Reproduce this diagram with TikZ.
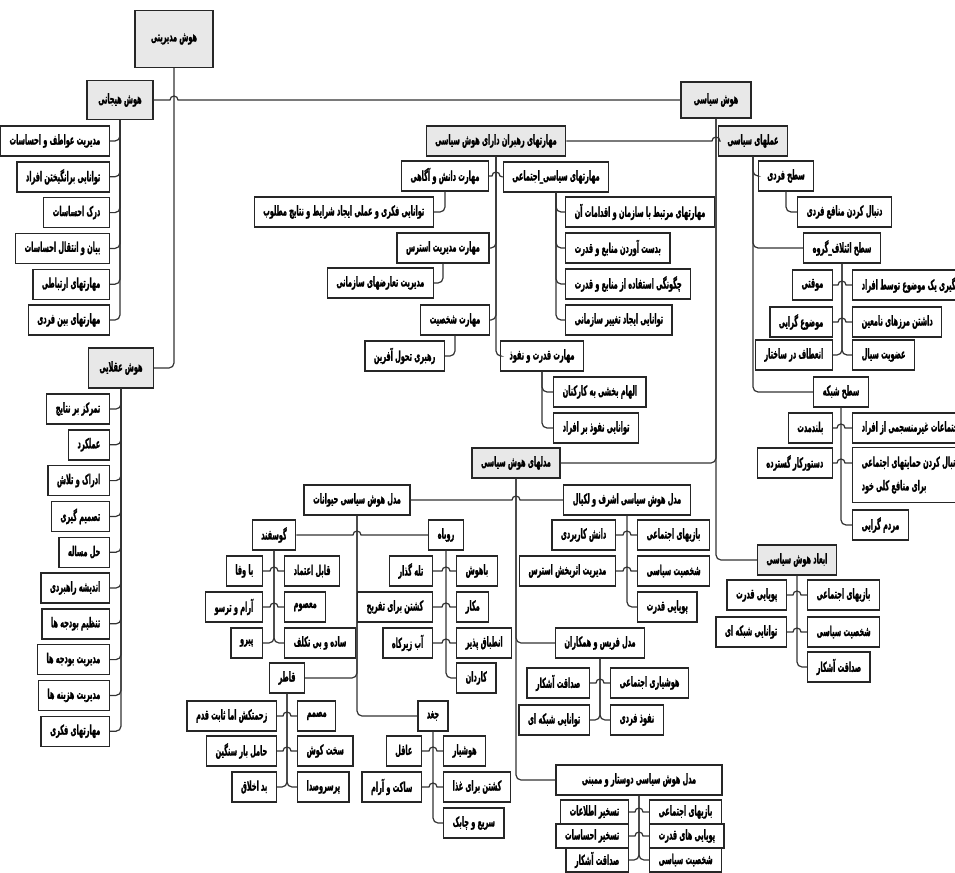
\documentclass[tikz,border=0pt]{standalone}
\usepackage{fontspec}
\newfontfamily\farsifont[Script=Arabic, FakeStretch=0.48, BoldFeatures={FakeBold=1.2}]{DejaVu Sans}
\TeXXeTstate=1
\tikzset{
	box/.style={draw=black!85, line width=0.7pt, fill=white, font=\farsifont\bfseries\fontsize{6.8}{7.8}\selectfont, inner xsep=4.5pt, inner ysep=1pt, minimum height=15pt, execute at begin node=\beginR, execute at end node=\endR},
	gbox/.style={box, fill=black!9},
	link/.style={draw=black!80, line width=0.6pt, rounded corners=2.5pt},
	hop/.style={draw=black!80, line width=0.6pt}
}
\begin{document}
\begin{tikzpicture}[x=0.5pt, y=-0.5pt]
		\useasboundingbox (0,0) rectangle (955,873);
		% top level
		\node[gbox, minimum width=39pt, minimum height=28.5pt] (mod) at (174,39) {هوش مدیریتی};
		\node[gbox, minimum width=33pt, minimum height=19.5pt] (hej) at (120,100) {هوش هیجانی};
		\node[gbox, minimum width=32.5pt, minimum height=20pt] (aql) at (121,368) {هوش عقلایی};
		\node[gbox, minimum width=35pt, minimum height=18pt] (sia) at (716,100) {هوش سیاسی};
		\draw[link] (mod.south) |- (aql.east);
		\draw[hop] (hej.east) -- ([xshift=-2pt]mod.south |- hej.east) arc (180:0:2pt) -- (sia.west);
		
		% emotional intelligence
		\foreach \t [count=\i] in {مدیریت عواطف و احساسات, توانایی برانگیختن افراد, درک احساسات, بیان و انتقال احساسات, مهارتهای ارتباطی, مهارتهای بین فردی}
		{
			\node[box, anchor=east] (h\i) at (110,141+35.8*\i-35.8) {\t};
			\draw[link] (hej.south) |- (h\i.east);
		}
		% rational intelligence
		\foreach \t [count=\i] in {تمرکز بر نتایج, عملکرد, ادراک و تلاش, تصمیم گیری, حل مساله, اندیشه راهبردی, تنظیم بودجه ها, مدیریت بودجه ها, مدیریت هزینه ها, مهارتهای فکری}
		{
			\node[box, anchor=east] (a\i) at (110,409+35.8*\i-35.8) {\t};
			\draw[link] (aql.south) |- (a\i.east);
		}
		
		% political intelligence
		\node[gbox] (mrh) at (496,141) {مهارتهای رهبران دارای هوش سیاسی};
		\node[gbox] (aml) at (753,141) {عملهای سیاسی};
		\node[gbox, minimum width=39pt] (mdl) at (516,463) {مدلهای هوش سیاسی};
		\node[gbox, minimum width=34.5pt] (abd) at (797,560) {ابعاد هوش سیاسی};
		\draw[link] (sia.south) |- (abd.west);
		\draw[hop] (mrh.east) -- ([xshift=-2pt]sia.south |- mrh.east) arc (180:0:2pt) -- (aml.west);
		\draw[link] (sia.south) |- (mdl.east);
		
		% leaders' skills
		\node[box] (md) at (445,176) {مهارت دانش و آگاهی};
		\node[box] (ms) at (556,177) {مهارتهای سیاسی\_اجتماعی};
		\node[box] (me) at (443,248) {مهارت مدیریت استرس};
		\node[box] (mk) at (455,320) {مهارت شخصیت};
		\node[box] (mn) at (542,356) {مهارت قدرت و نفوذ};
		\draw[hop] (md.east) -- ([xshift=-2pt]mrh.south |- md.east) arc (180:0:2pt) -- (ms.west);
		\draw[link] (mrh.south) |- (me.east);
		\draw[link] (mrh.south) |- (mk.east);
		\draw[link] (mrh.south) |- (mn.west);
		\node[box, anchor=east] (tf) at (434,212) {توانایی فکری و عملی ایجاد شرایط و نتایج مطلوب};
		\node[box, anchor=east] (tt) at (434,283) {مدیریت تعارضهای سازمانی};
		\node[box, anchor=east] (rt) at (445,356) {رهبری تحول آفرین};
		\draw[link] (md.south) |- (tf.east);
		\draw[link] (me.south) |- (tt.east);
		\draw[link] (mk.south) |- (rt.east);
		\foreach \t [count=\i] in {مهارتهای مرتبط با سازمان و اقدامات آن, بدست آوردن منابع و قدرت, چگونگی استفاده از منابع و قدرت, توانایی ایجاد تغییر سازمانی}
		{
			\node[box, anchor=west] (s\i) at (565,212+36*\i-36) {\t};
			\draw[link] (ms.south) |- (s\i.west);
		}
		\foreach \t [count=\i] in {الهام بخشی به کارکنان, توانایی نفوذ بر افراد}
		{
			\node[box, anchor=west] (n\i) at (553,392+36*\i-36) {\t};
			\draw[link] (mn.south) |- (n\i.west);
		}
		
		% political actions
		\node[box] (sf) at (786,176) {سطح فردی};
		\node[box] (se) at (842,248) {سطح ائتلاف\_گروه};
		\node[box] (sn) at (841,392) {سطح شبکه};
		\draw[link] (aml.south) |- (sf.west);
		\draw[link] (aml.south) |- (se.west);
		\draw[link] (aml.south) |- (sn.west);
		\node[box, anchor=west] (dm) at (797,212) {دنبال کردن منافع فردی};
		\draw[link] (sf.south) |- (dm.west);
		\node[box, anchor=east] (mq) at (833,285) {موقتی};
		\node[box, anchor=west] (pg) at (852,285) {پیگیری یک موضوع توسط افراد};
		\node[box, anchor=east] (mg) at (833,322) {موضوع گرایی};
		\node[box, anchor=west] (mz) at (852,322) {داشتن مرزهای نامعین};
		\node[box, anchor=east] (en) at (833,355) {انعطاف در ساختار};
		\node[box, anchor=west] (os) at (852,355) {عضویت سیال};
		\draw[hop] (mq.east) -- ([xshift=-2pt]se.south |- mq.east) arc (180:0:2pt) -- (pg.west);
		\draw[hop] (mg.east) -- ([xshift=-2pt]se.south |- mg.east) arc (180:0:2pt) -- (mz.west);
		\draw[link] (se.south) |- (en.east);
		\draw[link] (se.south) |- (os.west);
		\node[box, anchor=east] (bl) at (833,428) {بلندمدت};
		\node[box, anchor=west] (ej) at (852,428) {اجتماعات غیرمنسجمی از افراد};
		\node[box, anchor=east] (dk) at (833,463) {دستورکار گسترده};
		\node[box, anchor=west, minimum height=27.5pt, align=right, execute at begin node={}, execute at end node={}] (dh) at (852,475) {\beginR دنبال کردن حمایتهای اجتماعی\endR\\[4pt]\beginR برای منافع کلی خود\endR};
		\node[box, anchor=west] (mr) at (852,525) {مردم گرایی};
		\draw[hop] (bl.east) -- ([xshift=-2pt]sn.south |- bl.east) arc (180:0:2pt) -- (ej.west);
		\draw[hop] (dk.east) -- ([xshift=-2pt]sn.south |- dk.east) arc (180:0:2pt) -- (dh.west |- dk.east);
		\draw[link] (sn.south) |- (mr.west);
		
		% dimensions
		\node[box, anchor=east] (pq) at (787,595) {پویایی قدرت};
		\node[box, anchor=west] (bz) at (807,595) {بازیهای اجتماعی};
		\node[box, anchor=east] (ts) at (787,632) {توانایی شبکه ای};
		\node[box, anchor=west] (sh) at (807,632) {شخصیت سیاسی};
		\node[box, anchor=west] (sd) at (807,667) {صداقت آشکار};
		\draw[hop] (pq.east) -- ([xshift=-2pt]abd.south |- pq.east) arc (180:0:2pt) -- (bz.west);
		\draw[hop] (ts.east) -- ([xshift=-2pt]abd.south |- ts.east) arc (180:0:2pt) -- (sh.west);
		\draw[link] (abd.south) |- (sd.west);
		
		% models
		\node[box] (hv) at (357,500) {مدل هوش سیاسی حیوانات};
		\node[box] (ak) at (627,500) {مدل هوش سیاسی اشرف و لکیال};
		\node[box] (fr) at (600,643) {مدل فریس و همکاران};
		\node[box, minimum width=83pt] (db) at (639,780) {مدل هوش سیاسی دوستار و ممبنی};
		\draw[link] (mdl.south) |- (db.west);
		\draw[hop] (hv.east) -- ([xshift=-2pt]mdl.south |- hv.east) arc (180:0:2pt) -- (ak.west);
		\draw[link] (mdl.south) |- (fr.west);
		
		% animals
		\node[box] (gs) at (274,535) {گوسفند};
		\node[box] (rb) at (446,535) {روباه};
		\node[box] (qt) at (287,678) {قاطر};
		\node[box] (jg) at (433,716) {جغد};
		\draw[link] (hv.south) |- (jg.west);
		\draw[hop] (gs.east) -- ([xshift=-2pt]hv.south |- gs.east) arc (180:0:2pt) -- (rb.west);
		\draw[link] (hv.south) |- (qt.east);
		
		\node[box, anchor=east] (g1) at (263,571) {با وفا};
		\node[box, anchor=west] (g2) at (284,571) {قابل اعتماد};
		\node[box, anchor=east] (g3) at (263,607) {آرام و ترسو};
		\node[box, anchor=west] (g4) at (284,607) {معصوم};
		\node[box, anchor=east] (g5) at (263,643) {پیرو};
		\node[box, anchor=west] (g6) at (284,643) {ساده و بی تکلف};
		\draw[hop] (g1.east) -- ([xshift=-2pt]gs.south |- g1.east) arc (180:0:2pt) -- (g2.west);
		\draw[hop] (g3.east) -- ([xshift=-2pt]gs.south |- g3.east) arc (180:0:2pt) -- (g4.west);
		\draw[link] (gs.south) |- (g5.east);
		\draw[link] (gs.south) |- (g6.west);
		
		\node[box, anchor=east] (r1) at (433,571) {تله گذار};
		\node[box, anchor=west] (r2) at (456,571) {باهوش};
		\node[box, anchor=east] (r3) at (433,607) {کشتن برای تفریح};
		\node[box, anchor=west] (r4) at (456,607) {مکار};
		\node[box, anchor=east] (r5) at (433,643) {آب زیرکاه};
		\node[box, anchor=west] (r6) at (456,643) {انطباق پذیر};
		\node[box, anchor=west] (r7) at (456,678) {کاردان};
		\draw[hop] (r1.east) -- ([xshift=-2pt]rb.south |- r1.east) arc (180:0:2pt) -- (r2.west);
		\draw[hop] (r3.east) -- ([xshift=-2pt]rb.south |- r3.east) arc (180:0:2pt) -- (r4.west);
		\draw[hop] (r5.east) -- ([xshift=-2pt]rb.south |- r5.east) arc (180:0:2pt) -- (r6.west);
		\draw[link] (rb.south) |- (r7.west);
		
		\node[box, anchor=east] (q1) at (277,716) {زحمتکش اما ثابت قدم};
		\node[box, anchor=west] (q2) at (297,716) {مصمم};
		\node[box, anchor=east] (q3) at (277,751) {حامل بار سنگین};
		\node[box, anchor=west] (q4) at (297,751) {سخت کوش};
		\node[box, anchor=east] (q5) at (277,787) {بد اخلاق};
		\node[box, anchor=west] (q6) at (297,787) {پرسروصدا};
		\draw[hop] (q1.east) -- ([xshift=-2pt]qt.south |- q1.east) arc (180:0:2pt) -- (q2.west);
		\draw[hop] (q3.east) -- ([xshift=-2pt]qt.south |- q3.east) arc (180:0:2pt) -- (q4.west);
		\draw[link] (qt.south) |- (q5.east);
		\draw[link] (qt.south) |- (q6.west);
		
		\node[box, anchor=east] (j1) at (422,751) {عاقل};
		\node[box, anchor=west] (j2) at (443,751) {هوشیار};
		\node[box, anchor=east] (j3) at (422,787) {ساکت و آرام};
		\node[box, anchor=west] (j4) at (443,787) {کشتن برای غذا};
		\node[box, anchor=west] (j5) at (443,823) {سریع و چابک};
		\draw[hop] (j1.east) -- ([xshift=-2pt]jg.south |- j1.east) arc (180:0:2pt) -- (j2.west);
		\draw[hop] (j3.east) -- ([xshift=-2pt]jg.south |- j3.east) arc (180:0:2pt) -- (j4.west);
		\draw[link] (jg.south) |- (j5.west);
		
		% ashraf
		\node[box, anchor=east] (k1) at (616,535) {دانش کاربردی};
		\node[box, anchor=west] (k2) at (637,535) {بازیهای اجتماعی};
		\node[box, anchor=east] (k3) at (616,571) {مدیریت اثربخش استرس};
		\node[box, anchor=west] (k4) at (637,571) {شخصیت سیاسی};
		\node[box, anchor=west] (k5) at (637,607) {پویایی قدرت};
		\draw[hop] (k1.east) -- ([xshift=-2pt]ak.south |- k1.east) arc (180:0:2pt) -- (k2.west);
		\draw[hop] (k3.east) -- ([xshift=-2pt]ak.south |- k3.east) arc (180:0:2pt) -- (k4.west);
		\draw[link] (ak.south) |- (k5.west);
		
		% ferris
		\node[box, anchor=east] (f1) at (590,683) {صداقت آشکار};
		\node[box, anchor=west] (f2) at (610,683) {هوشیاری اجتماعی};
		\node[box, anchor=east] (f3) at (590,720) {توانایی شبکه ای};
		\node[box, anchor=west] (f4) at (610,720) {نفوذ فردی};
		\draw[hop] (f1.east) -- ([xshift=-2pt]fr.south |- f1.east) arc (180:0:2pt) -- (f2.west);
		\draw[link] (fr.south) |- (f3.east);
		\draw[link] (fr.south) |- (f4.west);
		
		% dubrin
		\node[box, anchor=east, minimum height=12pt] (d1) at (629,812) {تسخیر اطلاعات};
		\node[box, anchor=west, minimum height=12pt] (d2) at (649,812) {بازیهای اجتماعی};
		\node[box, anchor=east, minimum height=12pt] (d3) at (629,836) {تسخیر احساسات};
		\node[box, anchor=west, minimum height=12pt] (d4) at (649,836) {پویایی های قدرت};
		\node[box, anchor=east, minimum height=12pt] (d5) at (629,860) {صداقت آشکار};
		\node[box, anchor=west, minimum height=12pt] (d6) at (649,860) {شخصیت سیاسی};
		\draw[hop] (d1.east) -- ([xshift=-2pt]db.south |- d1.east) arc (180:0:2pt) -- (d2.west);
		\draw[hop] (d3.east) -- ([xshift=-2pt]db.south |- d3.east) arc (180:0:2pt) -- (d4.west);
		\draw[link] (db.south) |- (d5.east);
		\draw[link] (db.south) |- (d6.west);
\end{tikzpicture}
\end{document}
